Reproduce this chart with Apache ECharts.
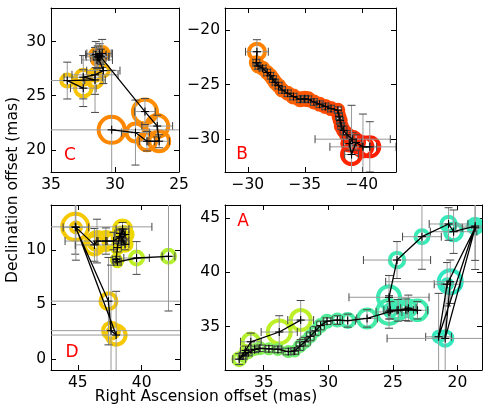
<!DOCTYPE html>
<html><head><meta charset="utf-8">
<script src="https://cdn.jsdelivr.net/npm/echarts@6/dist/echarts.min.js"></script>
<style>html,body{margin:0;padding:0;background:#fff}#chart{width:491px;height:409px}</style>
</head><body><div id="chart"></div>
<script>
// rows: [RA offset, Dec offset, RA err, Dec err, flux, phase]
const pointsC = [
  [32.48, 25.7, 1.0, 1.7, 2.7, 0.49],
  [33.73, 26.4, 1.3, 1.7, 1.44, 0.49],
  [31.56, 26.46, 0.8, 3.0, 2.25, 0.48],
  [32.48, 26.71, 1.5, 2.0, 2.25, 0.48],
  [31.56, 26.93, 1.8, 1.8, 1.44, 0.47],
  [30.91, 27.32, 1.3, 1.2, 1.21, 0.46],
  [31.3, 28.5, 0.6, 1.0, 1.0, 0.40],
  [31.5, 28.8, 0.8, 1.2, 1.21, 0.38],
  [31.2, 28.9, 1.0, 0.9, 1.44, 0.37],
  [31.0, 28.9, 0.7, 1.3, 1.69, 0.36],
  [31.4, 28.3, 1.2, 0.8, 1.0, 0.36],
  [31.2, 28.7, 0.5, 0.6, 1.21, 0.35],
  [31.35, 28.6, 0.9, 1.0, 1.21, 0.35],
  [31.1, 28.6, 0.6, 0.7, 1.0, 0.34],
  [27.66, 23.54, 0.8, 1.2, 5.76, 0.33],
  [26.7, 22.2, 1.2, 1.0, 4.84, 0.32],
  [26.55, 20.8, 0.8, 0.6, 4.0, 0.32],
  [27.5, 20.8, 0.6, 0.9, 3.24, 0.31],
  [28.4, 21.6, 1.1, 3.0, 3.24, 0.31],
  [30.26, 21.85, 6.0, 5.5, 6.76, 0.30]
];
const pointsB = [
  [-30.8, -22.0, 1.0, 1.1, 2.56, 0.29],
  [-30.75, -23.0, 0.3, 0.3, 1.21, 0.28],
  [-30.9, -23.3, 0.25, 0.3, 1.21, 0.27],
  [-31.3, -23.5, 0.3, 0.25, 1.21, 0.26],
  [-31.7, -23.9, 0.3, 0.3, 1.21, 0.25],
  [-32.0, -24.2, 0.25, 0.3, 1.21, 0.24],
  [-32.2, -24.5, 0.3, 0.3, 1.21, 0.235],
  [-32.4, -24.8, 0.25, 0.25, 1.21, 0.23],
  [-32.7, -25.1, 0.3, 0.3, 1.21, 0.22],
  [-33.0, -25.5, 0.3, 0.3, 1.21, 0.21],
  [-33.5, -25.8, 0.3, 0.3, 1.21, 0.20],
  [-34.0, -26.1, 0.3, 0.3, 1.44, 0.19],
  [-34.6, -26.35, 0.3, 0.3, 1.44, 0.18],
  [-35.0, -26.3, 0.3, 0.3, 1.44, 0.17],
  [-35.3, -26.35, 0.3, 0.3, 1.44, 0.165],
  [-35.8, -26.6, 0.3, 0.3, 1.21, 0.16],
  [-36.3, -26.8, 0.3, 0.3, 1.21, 0.15],
  [-36.8, -27.0, 0.3, 0.3, 1.21, 0.14],
  [-37.3, -27.2, 0.3, 0.3, 1.21, 0.13],
  [-37.9, -27.35, 0.3, 0.3, 1.21, 0.12],
  [-38.0, -27.9, 0.3, 0.3, 1.21, 0.11],
  [-38.1, -28.3, 0.3, 0.3, 1.21, 0.10],
  [-38.2, -28.8, 0.3, 0.3, 1.21, 0.09],
  [-38.4, -29.2, 0.3, 0.4, 1.21, 0.08],
  [-38.7, -29.6, 0.4, 0.4, 1.44, 0.07],
  [-39.2, -30.0, 3.3, 0.6, 2.25, 0.06],
  [-38.9, -30.4, 0.5, 0.6, 1.96, 0.05],
  [-39.1, -31.4, 0.6, 4.5, 3.61, 0.03],
  [-39.5, -30.3, 0.5, 0.7, 2.56, 0.04],
  [-40.1, -30.7, 2.9, 3.0, 3.61, 0.02],
  [-40.7, -30.7, 0.6, 2.3, 3.61, 0.01]
];
const pointsD = [
  [45.2, 12.1, 6.0, 2.5, 6.76, 0.50],
  [42.6, 5.3, 6.0, 4.0, 2.56, 0.50],
  [42.4, 2.6, 6.0, 6.0, 2.56, 0.50],
  [42.0, 2.2, 6.0, 4.0, 3.61, 0.50],
  [45.15, 12.05, 1.0, 3.0, 1.0, 0.50],
  [43.7, 10.45, 1.5, 1.5, 3.61, 0.51],
  [43.5, 10.8, 2.5, 2.0, 3.24, 0.51],
  [42.8, 10.8, 0.6, 1.2, 3.24, 0.52],
  [42.2, 10.8, 0.5, 0.8, 2.56, 0.52],
  [41.7, 11.2, 0.4, 0.6, 2.25, 0.53],
  [41.5, 11.9, 0.5, 0.6, 2.89, 0.54],
  [41.3, 11.4, 0.3, 0.5, 2.25, 0.54],
  [41.6, 10.8, 0.4, 0.4, 1.96, 0.55],
  [41.3, 10.5, 0.3, 0.5, 1.69, 0.55],
  [41.7, 11.5, 0.4, 0.4, 1.44, 0.56],
  [41.9, 10.2, 0.3, 0.4, 1.21, 0.57],
  [42.0, 9.1, 0.3, 0.3, 0.81, 0.58],
  [41.9, 8.9, 0.3, 0.3, 0.81, 0.59],
  [40.4, 9.25, 1.0, 1.5, 1.69, 0.62],
  [37.9, 9.4, 0.5, 5.0, 1.69, 0.63]
];
const pointsA = [
  [32.14, 35.6, 1.0, 1.8, 4.0, 0.62],
  [33.8, 34.5, 1.4, 1.5, 5.3, 0.62],
  [36.0, 33.6, 0.8, 0.8, 2.7, 0.63],
  [36.4, 32.8, 0.4, 0.4, 0.81, 0.63],
  [36.9, 32.0, 0.5, 0.5, 1.44, 0.64],
  [36.6, 32.3, 0.3, 0.3, 0.81, 0.65],
  [36.2, 32.6, 0.3, 0.3, 0.81, 0.66],
  [35.7, 32.9, 0.3, 0.3, 0.81, 0.67],
  [35.3, 33.0, 0.4, 0.3, 1.0, 0.68],
  [34.6, 32.95, 0.3, 0.3, 0.81, 0.69],
  [33.9, 32.9, 0.3, 0.3, 0.81, 0.70],
  [33.1, 32.7, 0.4, 0.3, 0.81, 0.71],
  [32.6, 32.75, 0.3, 0.3, 0.81, 0.72],
  [32.2, 33.2, 0.3, 0.4, 1.0, 0.73],
  [31.8, 33.6, 0.4, 0.4, 1.0, 0.74],
  [31.4, 34.1, 0.3, 0.4, 1.0, 0.75],
  [31.0, 34.6, 0.4, 0.4, 1.0, 0.76],
  [30.6, 35.1, 0.3, 0.4, 1.21, 0.77],
  [30.1, 35.5, 0.3, 0.3, 1.21, 0.78],
  [29.3, 35.6, 0.4, 0.4, 1.21, 0.79],
  [28.5, 35.55, 0.6, 0.6, 1.69, 0.80],
  [27.0, 35.75, 0.8, 0.8, 3.24, 0.81],
  [25.3, 36.35, 1.0, 1.5, 5.76, 0.83],
  [24.6, 36.5, 0.8, 1.0, 3.24, 0.84],
  [23.8, 36.7, 0.6, 1.2, 2.56, 0.85],
  [23.1, 36.5, 0.8, 0.8, 3.84, 0.86],
  [24.0, 36.55, 0.6, 1.0, 1.69, 0.87],
  [25.2, 36.5, 0.5, 0.8, 1.44, 0.88],
  [25.3, 37.7, 3.1, 2.0, 4.84, 0.89],
  [24.68, 41.13, 2.6, 1.7, 2.1, 0.90],
  [22.75, 43.28, 1.5, 3.0, 1.69, 0.92],
  [20.69, 44.45, 1.5, 1.5, 2.1, 0.93],
  [20.3, 43.74, 1.8, 2.0, 2.89, 0.94],
  [18.63, 44.26, 1.5, 4.0, 2.1, 0.95],
  [21.46, 34.06, 1.0, 4.0, 1.0, 0.96],
  [20.8, 38.9, 1.0, 2.0, 1.0, 0.97],
  [18.63, 44.1, 1.0, 3.0, 1.0, 0.97],
  [20.95, 33.91, 4.5, 5.0, 2.1, 0.98],
  [20.56, 39.13, 5.0, 2.0, 5.3, 1.00]
];
const ticksC = {x: [25, 30, 35], y: [20, 25, 30]};
const ticksB = {x: [-40, -35, -30], y: [-30, -25, -20]};
const ticksD = {x: [40, 45], y: [0, 5, 10]};
const ticksA = {x: [20, 25, 30, 35], y: [35, 40, 45]};

const FONT = 'DejaVu Sans';
const cmapStops = [
  [0.00, [255, 25, 0]], [0.15, [255, 80, 0]], [0.30, [255, 135, 0]],
  [0.42, [255, 165, 0]], [0.50, [245, 200, 0]], [0.56, [235, 222, 0]],
  [0.62, [190, 240, 40]], [0.70, [120, 238, 100]], [0.80, [70, 236, 165]],
  [1.00, [50, 232, 195]]
];
function cmap(t) {
  for (let i = 1; i < cmapStops.length; i++) {
    const [t1, c1] = cmapStops[i];
    const [t0, c0] = cmapStops[i - 1];
    if (t <= t1) {
      const f = (t - t0) / (t1 - t0);
      const c = c0.map((v, k) => Math.round(v + (c1[k] - v) * f));
      return 'rgb(' + c.join(',') + ')';
    }
  }
  return 'rgb(' + cmapStops[cmapStops.length - 1][1].join(',') + ')';
}
const fmt = v => (v < 0 ? '\u2212' + Math.abs(v) : String(v));

const panels = [
  {pts: pointsC, ticks: ticksC, grid: {left: 51, top: 8, width: 128, height: 164}, xr: [25, 35], yr: [17.96, 33.1]},
  {pts: pointsB, ticks: ticksB, grid: {left: 225, top: 8, width: 171, height: 164}, xr: [-43, -28], yr: [-33, -18]},
  {pts: pointsD, ticks: ticksD, grid: {left: 51, top: 205, width: 129, height: 165}, xr: [37, 47.1], yr: [-1, 14.1]},
  {pts: pointsA, ticks: ticksA, grid: {left: 225, top: 205, width: 257, height: 165}, xr: [18.1, 38.0], yr: [31, 46.2]}
];

const grids = [], xAxes = [], yAxes = [], series = [];
function axisCommon(ticks, showLabel) {
  return {
    axisLine: {show: true, onZero: false, lineStyle: {color: '#000', width: 1}},
    axisTick: {show: true, inside: true, length: 5, customValues: ticks, lineStyle: {color: '#000', width: 1}},
    axisLabel: {show: showLabel, customValues: ticks, formatter: fmt, color: '#000', fontSize: 15.5, fontFamily: FONT, margin: 5},
    splitLine: {show: false}
  };
}
function clipOf(params) {
  const cs = params.coordSys;
  return {type: 'rect', shape: {x: cs.x, y: cs.y, width: cs.width, height: cs.height}};
}
panels.forEach((p, i) => {
  grids.push(Object.assign({containLabel: false, show: false}, p.grid));
  xAxes.push(Object.assign({type: 'value', gridIndex: i, position: 'bottom', inverse: true, min: p.xr[0], max: p.xr[1]}, axisCommon(p.ticks.x, true)));
  xAxes.push(Object.assign({type: 'value', gridIndex: i, position: 'top', inverse: true, min: p.xr[0], max: p.xr[1]}, axisCommon(p.ticks.x, false)));
  yAxes.push(Object.assign({type: 'value', gridIndex: i, position: 'left', min: p.yr[0], max: p.yr[1]}, axisCommon(p.ticks.y, true)));
  yAxes.push(Object.assign({type: 'value', gridIndex: i, position: 'right', min: p.yr[0], max: p.yr[1]}, axisCommon(p.ticks.y, false)));
  const xi = 2 * i, yi = 2 * i;
  // circles (flux-scaled rings coloured by phase)
  series.push({
    type: 'custom', xAxisIndex: xi, yAxisIndex: yi, z: 2, silent: true, animation: false,
    data: p.pts,
    renderItem: (params, api) => {
      const c = api.coord([api.value(0), api.value(1)]);
      const r = 5 * Math.sqrt(api.value(4));
      return {type: 'group', clipPath: clipOf(params), children: [{
        type: 'circle', shape: {cx: c[0], cy: c[1], r: r},
        style: {fill: 'none', stroke: cmap(api.value(5)), lineWidth: 4}
      }]};
    }
  });
  // error bars
  series.push({
    type: 'custom', xAxisIndex: xi, yAxisIndex: yi, z: 3, silent: true, animation: false,
    data: p.pts,
    renderItem: (params, api) => {
      const x = api.value(0), y = api.value(1), ex = api.value(2), ey = api.value(3);
      const L = api.coord([x + ex, y]), R = api.coord([x - ex, y]);
      const T = api.coord([x, y + ey]), B = api.coord([x, y - ey]);
      const cap = 4;
      const gs = {stroke: '#999', lineWidth: 1};
      const ks = {stroke: '#444', lineWidth: 1};
      return {type: 'group', clipPath: clipOf(params), children: [
        {type: 'line', shape: {x1: L[0], y1: L[1], x2: R[0], y2: R[1]}, style: gs},
        {type: 'line', shape: {x1: T[0], y1: T[1], x2: B[0], y2: B[1]}, style: gs},
        {type: 'line', shape: {x1: L[0], y1: L[1] - cap, x2: L[0], y2: L[1] + cap}, style: ks},
        {type: 'line', shape: {x1: R[0], y1: R[1] - cap, x2: R[0], y2: R[1] + cap}, style: ks},
        {type: 'line', shape: {x1: T[0] - cap, y1: T[1], x2: T[0] + cap, y2: T[1]}, style: ks},
        {type: 'line', shape: {x1: B[0] - cap, y1: B[1], x2: B[0] + cap, y2: B[1]}, style: ks}
      ]};
    }
  });
  // path line
  series.push({
    type: 'line', xAxisIndex: xi, yAxisIndex: yi, z: 4, silent: true, animation: false,
    data: p.pts.map(r => [r[0], r[1]]), showSymbol: false, symbol: 'none',
    lineStyle: {color: '#000', width: 1.3}, clip: true
  });
  // plus markers
  series.push({
    type: 'custom', xAxisIndex: xi, yAxisIndex: yi, z: 5, silent: true, animation: false,
    data: p.pts,
    renderItem: (params, api) => {
      const c = api.coord([api.value(0), api.value(1)]);
      const h = 4, st = {stroke: '#000', lineWidth: 1.1};
      return {type: 'group', clipPath: clipOf(params), children: [
        {type: 'line', shape: {x1: c[0] - h, y1: c[1], x2: c[0] + h, y2: c[1]}, style: st},
        {type: 'line', shape: {x1: c[0], y1: c[1] - h, x2: c[0], y2: c[1] + h}, style: st}
      ]};
    }
  });
});

const labelStyle = {fill: '#ff0000', font: '17px "DejaVu Sans"', textAlign: 'center', textVerticalAlign: 'middle'};
const graphics = [
  {type: 'text', x: 70, y: 156, style: Object.assign({text: 'C'}, labelStyle), z: 10},
  {type: 'text', x: 242, y: 155, style: Object.assign({text: 'B'}, labelStyle), z: 10},
  {type: 'text', x: 72, y: 353, style: Object.assign({text: 'D'}, labelStyle), z: 10},
  {type: 'text', x: 243, y: 222, style: Object.assign({text: 'A'}, labelStyle), z: 10},
  {type: 'text', x: 206, y: 397, style: {text: 'Right Ascension offset (mas)', fill: '#000', font: '15.5px "DejaVu Sans"', textAlign: 'center', textVerticalAlign: 'middle'}},
  {type: 'text', x: 13, y: 190, rotation: Math.PI / 2, style: {text: 'Declination offset (mas)', fill: '#000', font: '15.5px "DejaVu Sans"', textAlign: 'center', textVerticalAlign: 'middle'}}
];

const chart = echarts.init(document.getElementById('chart'), null, {renderer: 'canvas'});
chart.setOption({
  animation: false,
  backgroundColor: '#fff',
  grid: grids, xAxis: xAxes, yAxis: yAxes, series: series, graphic: graphics
});
</script></body></html>
